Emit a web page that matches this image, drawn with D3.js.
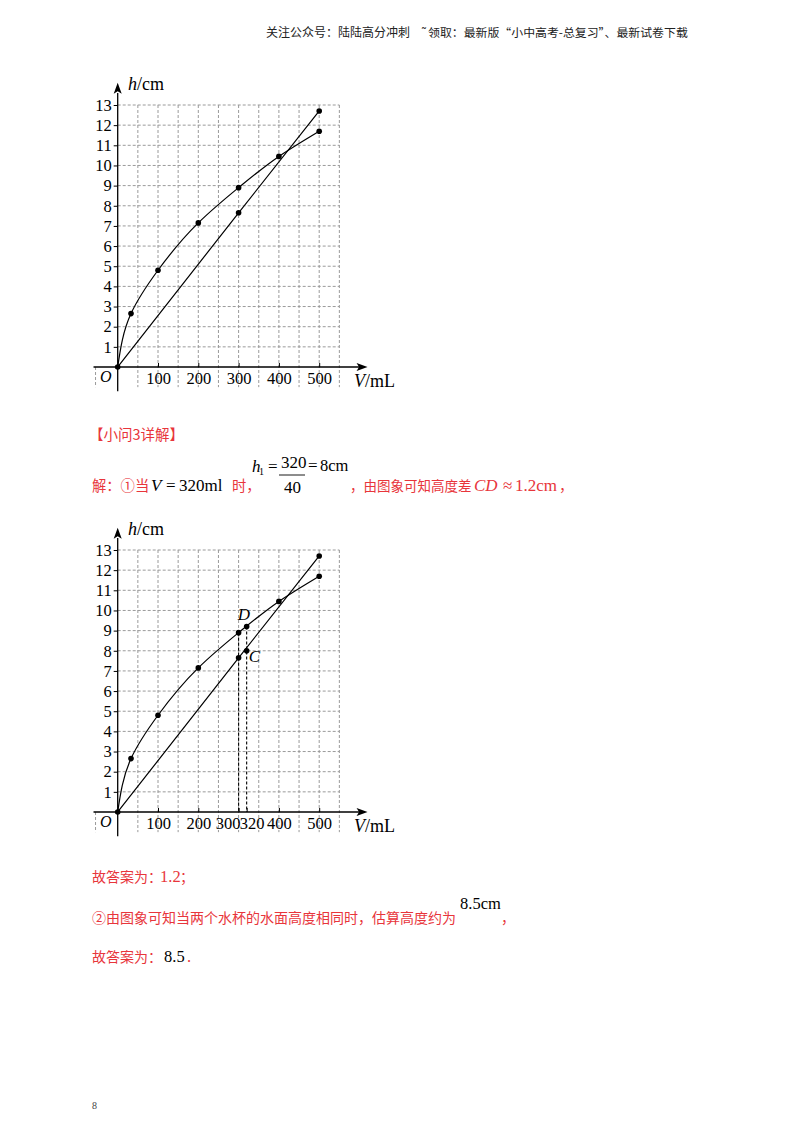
<!DOCTYPE html>
<html>
<head>
<meta charset="utf-8">
<script src="https://cdn.jsdelivr.net/npm/d3@7"></script>
<style>
body { margin: 0; background: #fff; }
</style>
</head>
<body>
<div id="page"></div>
<script>
// readings: water height h (cm) against volume V (mL)
var volCurve = [0, 33, 100, 200, 300, 400, 500];
var hCurve = [0, 2.65, 4.8, 7.15, 8.9, 10.45, 11.7];
var volLine = [0, 300, 500];
var hLine = [0, 7.65, 12.7];

var xTicksTop = [100, 200, 300, 400, 500];
var xTicksBottom = [100, 200, 300, 320, 400, 500];
var yTicks = [1, 2, 3, 4, 5, 6, 7, 8, 9, 10, 11, 12, 13];

// the V = 320 mL marks on the second graph
var markV = 320;
var markD = 9.2;
var markC = 8.0;
var guideV = 300;

var red = "#e8353b";
var serif = "'Liberation Serif', 'Times New Roman', serif";
var cjk = "'Noto Sans CJK SC', sans-serif";

var svg = d3.select("#page")
    .append("svg")
    .attr("width", 800)
    .attr("height", 1132);

svg.append("rect")
    .attr("width", 800)
    .attr("height", 1132)
    .attr("fill", "#fff");

function drawChart(originY, xTicks, withMarks) {
    var x = d3.scaleLinear().domain([0, 500]).range([117.7, 319.2]);
    var y = d3.scaleLinear().domain([0, 13]).range([originY, originY - 262]);

    var g = svg.append("g");

    // dashed grid
    var vGrid = d3.range(50, 551, 50);
    g.selectAll(".vgrid")
        .data(vGrid)
        .enter()
        .append("line")
        .attr("x1", function(d) { return x(d); })
        .attr("x2", function(d) { return x(d); })
        .attr("y1", y(13))
        .attr("y2", y(-1))
        .attr("stroke", "#9a9a9a")
        .attr("stroke-width", 1)
        .attr("stroke-dasharray", "3,2");

    g.append("line")
        .attr("x1", x(-55)).attr("x2", x(-55))
        .attr("y1", y(0)).attr("y2", y(-1))
        .attr("stroke", "#9a9a9a")
        .attr("stroke-dasharray", "3,2");

    g.selectAll(".hgrid")
        .data(yTicks)
        .enter()
        .append("line")
        .attr("x1", x(0))
        .attr("x2", x(550))
        .attr("y1", function(d) { return y(d); })
        .attr("y2", function(d) { return y(d); })
        .attr("stroke", "#9a9a9a")
        .attr("stroke-width", 1)
        .attr("stroke-dasharray", "3,2");

    // axes with ticks and labels
    var yAxis = g.append("g")
        .attr("transform", "translate(" + x(0) + ",0)")
        .call(d3.axisLeft(y).tickValues(yTicks).tickSize(4).tickPadding(2));
    var xAxis = g.append("g")
        .attr("transform", "translate(0," + y(0) + ")")
        .call(d3.axisBottom(x).tickValues(xTicks).tickSizeInner(-4).tickSizeOuter(0).tickPadding(5));

    [yAxis, xAxis].forEach(function(a) {
        a.select(".domain").remove();
        a.selectAll("line").attr("stroke", "#000");
        a.selectAll("text")
            .style("font-family", serif)
            .style("font-size", "16.5px")
            .attr("fill", "#000");
    });

    // crowded labels at 300 / 320
    if (withMarks) {
        xAxis.selectAll(".tick text")
            .attr("dx", function(d) { return d == 300 ? -11 : (d == 320 ? 5 : 0); });
    }

    // axis lines and arrows
    g.append("line")
        .attr("x1", x(0)).attr("x2", x(0))
        .attr("y1", y(-1.2)).attr("y2", y(13.6))
        .attr("stroke", "#000").attr("stroke-width", 1.3);
    g.append("line")
        .attr("x1", x(-60)).attr("x2", x(600))
        .attr("y1", y(0)).attr("y2", y(0))
        .attr("stroke", "#000").attr("stroke-width", 1.3);

    var tipY = y(14.1);
    g.append("path")
        .attr("d", "M" + x(0) + "," + tipY + "l-4,11l4,-2.5l4,2.5z")
        .attr("fill", "#000");
    var tipX = x(620);
    g.append("path")
        .attr("d", "M" + tipX + "," + y(0) + "l-11,-4l2.5,4l-2.5,4z")
        .attr("fill", "#000");

    // axis names
    var hLab = g.append("text")
        .attr("x", 128).attr("y", y(13) - 15)
        .style("font-family", serif).style("font-size", "18px");
    hLab.append("tspan").attr("font-style", "italic").text("h");
    hLab.append("tspan").text("/cm");

    var vLab = g.append("text")
        .attr("x", 354).attr("y", y(0) + 20)
        .style("font-family", serif).style("font-size", "18px");
    vLab.append("tspan").attr("font-style", "italic").text("V");
    vLab.append("tspan").text("/mL");

    g.append("text")
        .attr("x", 100).attr("y", y(0) + 15)
        .style("font-family", serif).style("font-size", "16px")
        .attr("font-style", "italic")
        .text("O");

    var curveData = d3.zip(volCurve, hCurve);
    var lineData = d3.zip(volLine, hLine);

    // the bent one rises almost straight up at O, so interpolate along h
    var bent = d3.line()
        .x(function(d) { return x(d[0]); })
        .y(function(d) { return y(d[1]); })
        .curve(d3.curveMonotoneY);
    var straight = d3.line()
        .x(function(d) { return x(d[0]); })
        .y(function(d) { return y(d[1]); })
        .curve(d3.curveMonotoneX);

    g.append("path")
        .datum(curveData)
        .attr("d", bent)
        .attr("fill", "none")
        .attr("stroke", "#000")
        .attr("stroke-width", 1.2);
    g.append("path")
        .datum(lineData)
        .attr("d", straight)
        .attr("fill", "none")
        .attr("stroke", "#000")
        .attr("stroke-width", 1.2);

    var dots = curveData.concat(lineData.slice(1));
    if (withMarks) {
        var guideH = hCurve[volCurve.indexOf(guideV)];
        [[guideV, guideH], [markV, markD]].forEach(function(p) {
            g.append("line")
                .attr("x1", x(p[0])).attr("x2", x(p[0]))
                .attr("y1", y(p[1])).attr("y2", y(0))
                .attr("stroke", "#000")
                .attr("stroke-width", 1.1)
                .attr("stroke-dasharray", "3,2");
        });
        dots = dots.concat([[markV, markD], [markV, markC]]);

        g.append("text")
            .attr("x", x(markV) - 9).attr("y", y(markD) - 7)
            .style("font-family", serif).style("font-size", "17px")
            .attr("font-style", "italic").text("D");
        g.append("text")
            .attr("x", x(markV) + 2).attr("y", y(markC) + 11)
            .style("font-family", serif).style("font-size", "17px")
            .attr("font-style", "italic").text("C");
    }

    g.selectAll(".dot")
        .data(dots)
        .enter()
        .append("circle")
        .attr("cx", function(d) { return x(d[0]); })
        .attr("cy", function(d) { return y(d[1]); })
        .attr("r", 2.8)
        .attr("fill", "#000");
}

drawChart(367, xTicksTop, false);
drawChart(812, xTicksBottom, true);

// page texts
function txt(xp, yp, s, opts) {
    opts = opts || {};
    return svg.append("text")
        .attr("x", xp).attr("y", yp)
        .style("font-family", opts.font || cjk)
        .style("font-size", (opts.size || 14) + "px")
        .attr("font-style", opts.italic ? "italic" : null)
        .attr("fill", opts.color || red)
        .text(s);
}

var math = {font: serif, size: 17, color: "#000"};

txt(266, 37, "关注公众号：陆陆高分冲刺", {size: 12, color: "#222"});
txt(422, 37, "˜", {size: 12, color: "#222"});
txt(428, 37, "领取：最新版“小中高考-总复习”、最新试卷下载", {size: 11.9, color: "#222"});

txt(89, 440, "【小问3详解】", {size: 14.5});

txt(92, 491, "解：①当", {size: 14.3});
txt(151, 491, "V", {font: serif, size: 17, italic: true, color: "#000"});
txt(166, 491, "=", math);
txt(179, 491, "320ml", math);
txt(232, 491, "时，", {size: 14.3});

txt(252, 472, "h", {font: serif, size: 17, italic: true, color: "#000"});
txt(259, 475, "1", {font: serif, size: 10, color: "#000"});
txt(268, 472, "=", math);
txt(281, 468, "320", math);
svg.append("line")
    .attr("x1", 279).attr("x2", 305)
    .attr("y1", 475).attr("y2", 475)
    .attr("stroke", "#000").attr("stroke-width", 0.9);
txt(284, 493, "40", math);
txt(308, 471, "=", math);
txt(320, 471, "8cm", {font: serif, size: 16.5, color: "#000"});

txt(350, 491, "，由图象可知高度差", {size: 13.5});
txt(474, 491, "CD", {font: serif, size: 17, italic: true});
txt(503, 491, "≈", {font: serif, size: 17});
txt(515, 491, "1.2cm", {font: serif, size: 17});
txt(559, 491, "，", {size: 14.3});

txt(92, 882, "故答案为：");
txt(160, 882, "1.2", {font: serif, size: 16.5});
txt(180, 882, "；");

txt(92, 923, "②由图象可知当两个水杯的水面高度相同时，估算高度约为");
txt(460, 909, "8.5cm", {font: serif, size: 16.5, color: "#000"});
txt(501, 923, "，");

txt(92, 962, "故答案为：");
txt(164, 962, "8.5", {font: serif, size: 16.5, color: "#000"});
txt(187, 962, ".", {font: serif, size: 16.5});

txt(92, 1109, "8", {font: serif, size: 10, color: "#444"});
</script>
</body>
</html>
